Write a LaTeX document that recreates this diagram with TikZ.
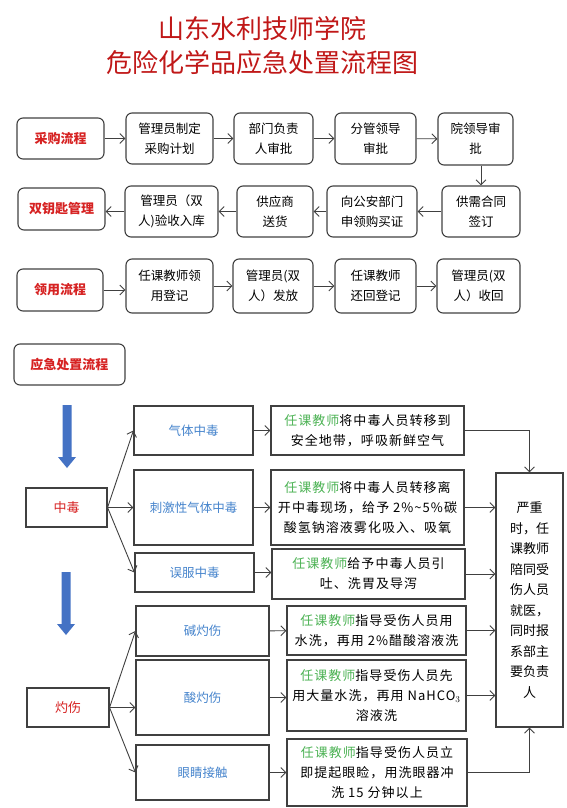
\documentclass[tikz,border=0pt]{standalone}
\usepackage{fontspec}
\setmainfont{Noto Sans CJK SC}
\newfontfamily\cjkwide[LetterSpace=8]{Noto Sans CJK SC}
\usetikzlibrary{arrows.meta}
\usetikzlibrary{positioning}

\definecolor{titlered}{RGB}{192,24,24}
\definecolor{labelred}{RGB}{214,34,34}
\definecolor{caseblue}{RGB}{70,132,204}
\definecolor{teachgreen}{RGB}{76,178,84}
\definecolor{linegray}{RGB}{64,64,64}
\definecolor{arrowblue}{RGB}{68,114,196}

\tikzset{
  flowbox/.style={draw=linegray,line width=1.1pt,rounded corners=6pt,align=center,inner sep=0pt,font=\fontsize{12.5}{20}\selectfont},
  headbox/.style={flowbox,text=labelred,font=\fontsize{13}{16}\selectfont\bfseries},
  typebox/.style={draw=linegray,line width=1.1pt,align=center,inner sep=0pt,text=labelred,font=\fontsize{13}{16}\selectfont},
  casebox/.style={draw=linegray,line width=1.1pt,align=center,inner sep=0pt,text=caseblue,font=\fontsize{12.5}{16}\selectfont},
  dobox/.style={draw=linegray,line width=1.1pt,align=center,inner sep=0pt,font=\cjkwide\fontsize{13}{20}\selectfont},
  flow/.style={draw=linegray,line width=0.9pt,-{Straight Barb[length=5pt,width=10pt]}},
}
\newcommand{\teacher}{\textcolor{teachgreen}{任课教师}}

\begin{document}
\begin{tikzpicture}[x=1pt,y=-1pt]
\useasboundingbox (0,0) rectangle (566,808);

\node[text=titlered,align=center,font=\fontsize{26}{34}\selectfont] (title) at (262,46) {山东水利技师学院\\危险化学品应急处置流程图};

% purchase
\node[headbox,minimum width=87pt,minimum height=41pt] (cg) at (60.5,138.5) {采购流程};
\node[flowbox,minimum width=87pt,minimum height=51pt] (jh) at (169.5,138.5) {管理员制定\\采购计划};
\node[flowbox,minimum width=79pt,minimum height=51pt] (bm) at (273.5,138.5) {部门负责\\人审批};
\node[flowbox,minimum width=81pt,minimum height=51pt] (fg) at (375.5,138.5) {分管领导\\审批};
\node[flowbox,minimum width=75pt,minimum height=52pt] (yl) at (475.5,139) {院领导审\\批};
\node[headbox,minimum width=87pt,minimum height=42pt] (sys) at (61.5,209) {双钥匙管理};
\node[flowbox,minimum width=93pt,minimum height=51pt] (ys) at (171.5,211.5) {管理员（双\\人)验收入库};
\node[flowbox,minimum width=76pt,minimum height=51pt] (gh) at (275,211.5) {供应商\\送货};
\node[flowbox,minimum width=90pt,minimum height=51pt] (sq) at (372,211.5) {向公安部门\\申领购买证};
\node[flowbox,minimum width=78pt,minimum height=51pt] (ht) at (481,211.5) {供需合同\\签订};

\draw[flow] (cg) -- (jh);
\draw[flow] (jh) -- (bm);
\draw[flow] (bm) -- (fg);
\draw[flow] (fg) -- (yl);
\draw[flow] (yl.south -| ht.north) -- (ht.north);
\draw[flow] (ht) -- (sq);
\draw[flow] (sq) -- (gh);
\draw[flow] (gh) -- (ys);
\draw[flow] (ys) -- (ys.west -| sys.east);

% use
\node[headbox,minimum width=86pt,minimum height=42pt] (lyl) at (60,290) {领用流程};
\node[flowbox,minimum width=87pt,minimum height=54pt] (dj) at (169.5,286) {任课教师领\\用登记};
\node[flowbox,minimum width=80pt,minimum height=54pt] (ff) at (273,286) {管理员(双\\人）发放};
\node[flowbox,minimum width=81pt,minimum height=54pt] (hh) at (375.5,286) {任课教师\\还回登记};
\node[flowbox,minimum width=83pt,minimum height=54pt] (sh) at (478.5,286) {管理员(双\\人）收回};

\draw[flow] (lyl.east) -- (lyl.east -| dj.west);
\draw[flow] (dj) -- (ff);
\draw[flow] (ff) -- (hh);
\draw[flow] (hh) -- (sh);

\node[headbox,minimum width=111pt,minimum height=41pt] (yjcz) at (69.5,364.5) {应急处置流程};

% emergency
\foreach \ax/\ay in {67/405, 66/572}
  \fill[arrowblue] (\ax-4.5,\ay) -- ++(9,0) -- ++(0,52) -- ++(4.5,0) -- ++(-9,11) -- ++(-9,-11) -- ++(4.5,0) -- cycle;

\node[typebox,minimum width=81pt,minimum height=39pt] (zd) at (66.5,507.5) {中毒};
\node[casebox,minimum width=119pt,minimum height=49pt] (qt) at (193.5,430.5) {气体中毒};
\node[casebox,minimum width=119pt,minimum height=75pt] (cj) at (193.5,507.5) {刺激性气体中毒};
\node[casebox,minimum width=119pt,minimum height=39pt] (wf) at (194.5,572.5) {误服中毒};
\node[dobox,minimum width=193pt,minimum height=49pt] (ta) at (367.5,430.5) {\teacher 将中毒人员转移到\\安全地带，呼吸新鲜空气};
\node[dobox,minimum width=193pt,minimum height=75pt] (tb) at (367.5,507.5) {\teacher 将中毒人员转移离\\开中毒现场，给予 2\%\textasciitilde5\%碳\\酸氢钠溶液雾化吸入、吸氧};
\node[dobox,minimum width=193pt,minimum height=50pt] (tc) at (368.5,574) {\teacher 给予中毒人员引\\吐、洗胃及导泻};

\node[typebox,minimum width=82pt,minimum height=39pt] (zs) at (68,707.5) {灼伤};
\node[casebox,minimum width=133pt,minimum height=50pt] (jz) at (202.5,631) {碱灼伤};
\node[casebox,minimum width=133pt,minimum height=75pt] (sz) at (202.5,697.5) {酸灼伤};
\node[casebox,minimum width=133pt,minimum height=55pt] (yjjc) at (202.5,772.5) {眼睛接触};
\node[dobox,minimum width=179pt,minimum height=49pt] (td) at (376.5,630.5) {\teacher 指导受伤人员用\\水洗，再用 2\%醋酸溶液洗};
\node[dobox,minimum width=179pt,minimum height=71pt] (te) at (376.5,695.5) {\teacher 指导受伤人员先\\用大量水洗，再用 NaHCO$_3$\\溶液洗};
\node[dobox,minimum width=180pt,minimum height=67pt] (tf) at (377,772.5) {\teacher 指导受伤人员立\\即提起眼睑，用洗眼器冲\\洗 15 分钟以上};

\node[dobox,minimum width=67pt,minimum height=254pt,font=\fontsize{13}{20.5}\selectfont] (yz) at (529.5,600) {严重\\时，任\\课教师\\陪同受\\伤人员\\就医，\\同时报\\系部主\\要负责\\人};

\draw[flow] (zd.east) -- (qt.west);
\draw[flow] (zd.east) -- (zd.east -| cj.west);
\draw[flow] (zd.east) -- (wf.west);
\draw[flow] (qt) -- (ta);
\draw[flow] (cj) -- (tb);
\draw[flow] (wf.east) -- (wf.east -| tc.west);
\draw[flow] (ta.east) -| (yz.north);
\draw[flow] (tb.east) -- (tb.east -| yz.west);
\draw[flow] (tc.east) -- (tc.east -| yz.west);

\draw[flow] (zs.east) -- (jz.west);
\draw[flow] (zs.east) -- (zs.east -| sz.west);
\draw[flow] (zs.east) -- (yjjc.west);
\draw[flow] (jz) -- (td);
\draw[flow] (sz.east) -- (sz.east -| te.west);
\draw[flow] (yjjc) -- (tf);
\draw[flow] (td.east) -- (td.east -| yz.west);
\draw[flow] (te.east) -- (te.east -| yz.west);
\draw[flow] (tf.east) -| (yz.south);

\end{tikzpicture}
\end{document}
